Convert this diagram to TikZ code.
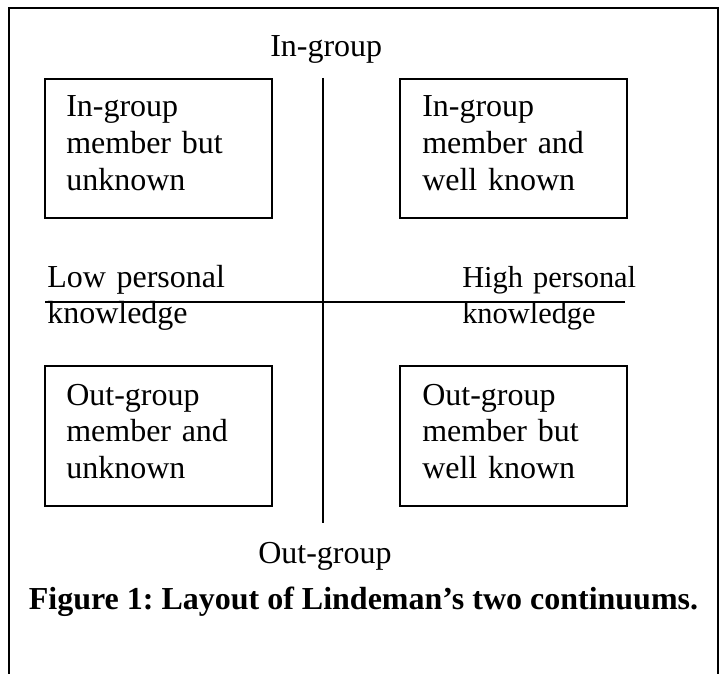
\documentclass[tikz,border=0pt]{standalone}
\usepackage{fontspec}
\setmainfont{Liberation Serif}
\frenchspacing
\begin{document}
\begin{tikzpicture}[x=0.75pt,y=-0.75pt,
  framerule/.style={line width=1.2pt, line cap=rect},
  quadbox/.style={draw, line width=1.2pt, inner sep=0pt,
    minimum width=227*0.75pt, minimum height=139*0.75pt, anchor=north west},
  axisrule/.style={line width=0.9pt},
  bodytext/.style={inner sep=0pt, anchor=base west, align=left,
    text width=200pt, font=\fontsize{24}{27.6}\selectfont},
  sidetext/.style={bodytext, font=\fontsize{22.8}{27.2}\selectfont},
  axistext/.style={inner sep=0pt, anchor=base west,
    font=\fontsize{24}{27.6}\selectfont},
  captext/.style={inner sep=0pt, anchor=base,
    font=\fontsize{24}{27.6}\selectfont\bfseries}]
\useasboundingbox (0,0) rectangle (719,674);

% open frame around the figure
\coordinate (fbl) at (9,674);
\coordinate (ftl) at (9,8);
\coordinate (ftr) at (718,8);
\coordinate (fbr) at (718,674);
\draw[framerule] (fbl) -- (ftl) -- (ftr) -- (fbr);

% the two continuums
\coordinate (vtop) at (323,78);
\coordinate (vbot) at (323,523);
\coordinate (hleft) at (45,302);
\coordinate (hright) at (625,302);
\draw[axisrule] (vtop) -- (vbot);
\draw[axisrule] (hleft) -- (hright);

% quadrant boxes
\node[quadbox] (tl) at (44,78) {};
\node[quadbox] (tr) at (399,78) {};
\node[quadbox, minimum height=140*0.75pt] (bl) at (44,365) {};
\node[quadbox, minimum height=140*0.75pt] (br) at (399,365) {};

\node[bodytext] (tltext) at (66,117) {In-group\\member but\\unknown};
\node[bodytext] (trtext) at (422,117) {In-group\\member and\\well known};
\node[bodytext] (bltext) at (66,405) {Out-group\\member and\\unknown};
\node[bodytext] (brtext) at (422,405) {Out-group\\member but\\well known};

% axis end labels
\node[axistext] (ingroup) at (270,57) {In-group};
\node[axistext] (outgroup) at (258,563) {Out-group};
\node[bodytext] (low) at (47,287) {Low personal\\knowledge};
\node[sidetext] (high) at (462,287) {High personal\\knowledge};

% caption
\node[captext] (caption) at (363.5,609) {Figure 1: Layout of Lindeman's two continuums.};
\end{tikzpicture}
\end{document}
